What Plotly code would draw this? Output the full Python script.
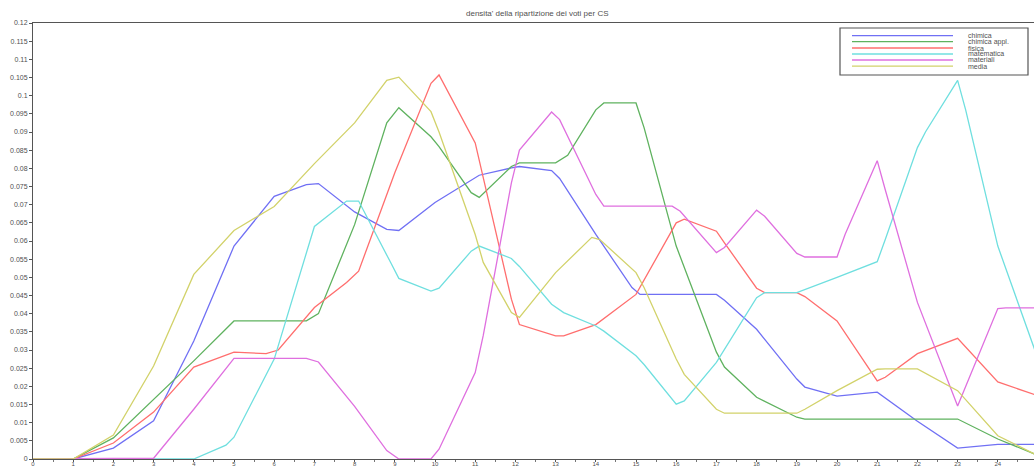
import plotly.graph_objects as go

# ---- data ----
names = ["chimica", "chimica appl.", "fisica", "matematica", "materiali", "media"]
colors = ["#7070f4", "#5fb25f", "#ff6e6e", "#6fdfdf", "#df6fdf", "#d2d26a"]

chimica_x = [0, 1, 2, 3, 4, 5, 6, 6.8, 7.1, 8, 8.8, 9.1, 10, 10.9, 11.1, 11.9, 12.1, 12.9, 13.1, 14,
             14.9, 15.1, 17, 17.2, 18, 19, 19.2, 20, 21, 22, 23, 24, 25]
chimica_y = [0, 0, 0.003, 0.0105, 0.0325, 0.0586, 0.0723, 0.0755, 0.0758, 0.068, 0.0632, 0.0629, 0.0706,
             0.0769, 0.0781, 0.0801, 0.0805, 0.0794, 0.0772, 0.0618, 0.0472, 0.0453, 0.0453, 0.0437,
             0.0357, 0.022, 0.0198, 0.0173, 0.0184, 0.0104, 0.003, 0.004, 0.004]

chim_appl_x = [0, 1, 2, 3, 4, 5, 6.8, 7.1, 8, 8.8, 9.1, 9.9, 10.1, 10.9, 11.1, 11.9, 12.1, 13, 13.3, 14,
               14.2, 15, 15.2, 16, 17, 17.2, 18, 19, 19.2, 23, 24, 25]
chim_appl_y = [0, 0, 0.0058, 0.0165, 0.027, 0.038, 0.038, 0.040, 0.0645, 0.0925, 0.0967, 0.0887, 0.086,
               0.0733, 0.072, 0.0805, 0.0815, 0.0815, 0.0836, 0.0961, 0.098, 0.098, 0.0912, 0.0586,
               0.0294, 0.0253, 0.017, 0.0115, 0.011, 0.011, 0.0055, 0.001]

fisica_x = [0, 1, 2, 3, 4, 5, 5.8, 6.1, 7, 7.8, 8.1, 9, 9.9, 10.1, 11, 11.9, 12.1, 13, 13.2, 14, 15, 16,
            16.2, 17, 17.2, 18, 18.2, 19, 19.2, 20, 21, 21.2, 22, 23, 24, 25]
fisica_y = [0, 0, 0.0044, 0.0129, 0.0253, 0.0294, 0.029, 0.030, 0.0417, 0.0486, 0.0517, 0.0788, 0.1034,
            0.1057, 0.087, 0.044, 0.037, 0.0339, 0.0339, 0.037, 0.0453, 0.065, 0.066, 0.0627, 0.0595,
            0.047, 0.0458, 0.0458, 0.0447, 0.038, 0.0215, 0.0225, 0.029, 0.0332, 0.0212, 0.0174]

matematica_x = [0, 4, 4.8, 5, 6, 7, 7.8, 8.1, 8.9, 9.1, 9.9, 10.1, 10.9, 11.1, 11.9, 12.1, 12.9, 13.2,
                14, 14.2, 15, 15.2, 16, 16.2, 17, 17.2, 18, 18.2, 19, 20, 21, 21.2, 22, 22.2, 23, 23.2,
                24, 25]
matematica_y = [0, 0, 0.0038, 0.006, 0.0275, 0.064, 0.071, 0.071, 0.054, 0.0497, 0.0462, 0.047, 0.0572,
                0.0586, 0.0552, 0.053, 0.0426, 0.0403, 0.0366, 0.0352, 0.0284, 0.026, 0.0151, 0.016,
                0.0266, 0.0302, 0.0444, 0.0458, 0.0458, 0.050, 0.0543, 0.0604, 0.0857, 0.090, 0.1042,
                0.0961, 0.0586, 0.0275]

materiali_x = [0, 3, 4, 5, 6.8, 7.1, 8, 8.8, 9.1, 9.9, 10.1, 11, 11.2, 11.9, 12.1, 12.9, 13.1, 14, 14.2,
               15.9, 16.1, 17, 17.2, 18, 18.2, 19, 19.2, 20, 20.2, 21, 21.2, 22, 23, 24, 24.2, 25]
materiali_y = [0, 0.0002, 0.0137, 0.0277, 0.0277, 0.0267, 0.0145, 0.0023, 0, 0, 0.0027, 0.0238, 0.034,
               0.076, 0.085, 0.0955, 0.0934, 0.0728, 0.0696, 0.0696, 0.0682, 0.0568, 0.0582, 0.0685,
               0.0668, 0.0566, 0.0556, 0.0556, 0.0618, 0.0821, 0.0741, 0.0431, 0.0146, 0.0414, 0.0416,
               0.0416]

media_x = [0, 1, 2, 3, 4, 5, 6, 7, 8, 8.8, 9.1, 9.9, 10.1, 11, 11.2, 11.9, 12.1, 13, 13.9, 14.1, 15,
           15.2, 16, 16.2, 17, 17.2, 19, 19.2, 20, 21, 21.2, 22, 23, 24, 25]
media_y = [0, 0, 0.0066, 0.0256, 0.0508, 0.0629, 0.0695, 0.0813, 0.0925, 0.1042, 0.1051, 0.0956, 0.090,
           0.0618, 0.0541, 0.0403, 0.039, 0.0513, 0.061, 0.0604, 0.0513, 0.0472, 0.0275, 0.0233, 0.0137,
           0.0126, 0.0126, 0.0137, 0.0188, 0.0247, 0.0248, 0.0248, 0.0188, 0.0064, 0.0009]

series_x = [chimica_x, chim_appl_x, fisica_x, matematica_x, materiali_x, media_x]
series_y = [chimica_y, chim_appl_y, fisica_y, matematica_y, materiali_y, media_y]

x_ticks = list(range(0, 25))
y_ticks = [i * 0.005 for i in range(0, 25)]
y_tick_labels = [f"{round(v, 3):g}" for v in y_ticks]

title_text = "densita' della ripartizione dei voti per CS"

# ---- figure ----
W, H = 1034, 469
ML, MR, MT, MB = 33, 0, 23, 10
FONT = "Liberation Sans, Arial, sans-serif"
TXT = "#505050"

fig = go.Figure()
for n, c, xs, ys in zip(names, colors, series_x, series_y):
    fig.add_trace(go.Scatter(x=xs, y=ys, name=n, mode="lines",
                             line=dict(color=c, width=1.3), showlegend=False))

pw = W - ML - MR
ph = H - MT - MB


def px_x(p):
    return (p - ML) / pw


def px_y(p):
    return 1 - (p - MT) / ph


shapes = [dict(type="rect", xref="paper", yref="paper",
               x0=px_x(840), x1=px_x(1028), y0=px_y(75), y1=px_y(28),
               line=dict(color="#555555", width=1.2), fillcolor="white", layer="above")]
annotations = []
leg_y = [35.7, 41.7, 48.0, 54.0, 60.0, 66.2]
for n, c, ly in zip(names, colors, leg_y):
    shapes.append(dict(type="line", xref="paper", yref="paper",
                       x0=px_x(852), x1=px_x(953), y0=px_y(ly), y1=px_y(ly),
                       line=dict(color=c, width=1.3), layer="above"))
    annotations.append(dict(xref="paper", yref="paper", x=px_x(966), y=px_y(ly),
                            text=n, showarrow=False, xanchor="left", yanchor="middle",
                            font=dict(family=FONT, size=7, color=TXT)))

annotations.append(dict(xref="paper", yref="paper", x=px_x(537), y=px_y(13),
                        text=title_text, showarrow=False, xanchor="center", yanchor="middle",
                        font=dict(family=FONT, size=8, color=TXT)))

fig.update_layout(
    width=W, height=H,
    margin=dict(l=ML, r=MR, t=MT, b=MB, pad=0, autoexpand=False),
    paper_bgcolor="white", plot_bgcolor="white",
    font=dict(family=FONT, size=7, color=TXT),
    shapes=shapes, annotations=annotations,
    showlegend=False,
)
fig.update_xaxes(range=[0, 24.9], tickvals=x_ticks, ticktext=[str(v) for v in x_ticks],
                 automargin=False,
                 showgrid=False, zeroline=False, showline=True, linecolor="#555555", linewidth=1,
                 mirror=True, ticks="outside", ticklen=2, tickcolor="#555555",
                 ticklabelstandoff=-3,
                 minor=dict(tickvals=[v + 0.5 for v in x_ticks], ticks="outside", ticklen=2,
                            tickcolor="#777777"),
                 tickfont=dict(family=FONT, size=6, color=TXT))
fig.update_yaxes(range=[0, 0.12], tickvals=y_ticks, ticktext=y_tick_labels,
                 automargin=False,
                 showgrid=False, zeroline=False, showline=True, linecolor="#555555", linewidth=1,
                 ticks="outside", ticklen=3, tickcolor="#555555",
                 tickfont=dict(family=FONT, size=7, color=TXT))

fig.write_html("out.html", config={"displayModeBar": False},
               post_script="document.body.style.margin='0';document.body.style.overflow='hidden';")
